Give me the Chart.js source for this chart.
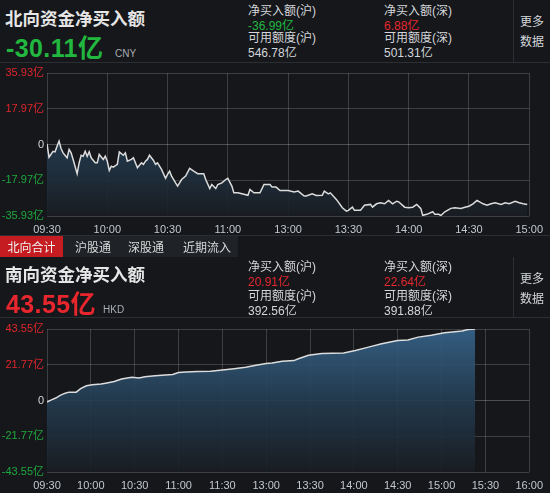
<!DOCTYPE html>
<html>
<head>
<meta charset="utf-8">
<script src="https://cdn.jsdelivr.net/npm/chart.js@4.4.0/dist/chart.umd.min.js"></script>
<style>
	body {
		margin: 0;
		width: 550px;
		height: 493px;
		overflow: hidden;
		position: relative;
		background: #15171b;
		font-family: 'Liberation Sans', 'Noto Sans CJK SC', sans-serif;
		color: #d4d6d9;
	}
	.t { position: absolute; white-space: nowrap; line-height: 16px; height: 16px; }
	.title { font-size: 17.5px; font-weight: bold; color: #e6e6e6; line-height: 20px; height: 20px; font-family: 'Noto Sans CJK SC', sans-serif; }
	.big { font-size: 25px; font-weight: bold; line-height: 28px; height: 28px; letter-spacing: 0.4px; }
	.cur { font-size: 10px; color: #a9adb2; }
	.sm { font-size: 12px; }
	.green { color: #22b83f; }
	.red { color: #e8262d; }
	.hline { position: absolute; left: 0; width: 550px; height: 1px; background: #2b2e33; }
	.vline { position: absolute; width: 1px; background: #2b2e33; }
	.tabs { position: absolute; left: 0; top: 236px; width: 238px; height: 21px; background: #1f2227; }
	.tab { position: absolute; top: 0; height: 21px; line-height: 21px; font-size: 12px; color: #d8d8d8; font-family: 'Noto Sans CJK SC', sans-serif; }
	.tab.on { background: #c41c20; left: 0; width: 63px; text-align: center; color: #f0f0f0; }
	canvas { position: absolute; left: 0; }
</style>
</head>
<body>
	<!-- north header -->
	<div class="t title" style="left:5px; top:8px;">北向资金净买入额</div>
	<div class="t big green" style="left:6px; top:34px;">-30.11亿</div>
	<div class="t cur" style="left:115px; top:46px;">CNY</div>
	<div class="t sm" style="left:248px; top:3px;">净买入额(沪)</div>
	<div class="t sm green" style="left:248px; top:18px;">-36.99亿</div>
	<div class="t sm" style="left:248px; top:30px;">可用额度(沪)</div>
	<div class="t sm" style="left:248px; top:45px;">546.78亿</div>
	<div class="t sm" style="left:384px; top:3px;">净买入额(深)</div>
	<div class="t sm red" style="left:384px; top:18px;">6.88亿</div>
	<div class="t sm" style="left:384px; top:30px;">可用额度(深)</div>
	<div class="t sm" style="left:384px; top:45px;">501.31亿</div>
	<div class="vline" style="left:513px; top:0; height:62px;"></div>
	<div class="t sm" style="left:520px; top:14px;">更多</div>
	<div class="t sm" style="left:520px; top:34px;">数据</div>
	<div class="hline" style="top:62px;"></div>

	<canvas id="northChart" width="550" height="174" style="top:62px;"></canvas>

	<div class="hline" style="top:235px;"></div>
	<div class="tabs">
		<div class="tab on">北向合计</div>
		<div class="tab" style="left:75px;">沪股通</div>
		<div class="tab" style="left:128px;">深股通</div>
		<div class="tab" style="left:183px;">近期流入</div>
	</div>

	<!-- south header -->
	<div class="t title" style="left:5px; top:264px;">南向资金净买入额</div>
	<div class="t big red" style="left:6px; top:290px;">43.55亿</div>
	<div class="t cur" style="left:103px; top:302px;">HKD</div>
	<div class="t sm" style="left:248px; top:259px;">净买入额(沪)</div>
	<div class="t sm red" style="left:248px; top:274px;">20.91亿</div>
	<div class="t sm" style="left:248px; top:288px;">可用额度(沪)</div>
	<div class="t sm" style="left:248px; top:303px;">392.56亿</div>
	<div class="t sm" style="left:384px; top:259px;">净买入额(深)</div>
	<div class="t sm red" style="left:384px; top:274px;">22.64亿</div>
	<div class="t sm" style="left:384px; top:288px;">可用额度(深)</div>
	<div class="t sm" style="left:384px; top:303px;">391.88亿</div>
	<div class="vline" style="left:513px; top:257px; height:60px;"></div>
	<div class="t sm" style="left:520px; top:271px;">更多</div>
	<div class="t sm" style="left:520px; top:291px;">数据</div>
	<div class="hline" style="top:317px;"></div>

	<canvas id="southChart" width="550" height="175" style="top:318px;"></canvas>

<script>
// North-bound flow (minutes since 09:30, lunch break removed), 亿
const northMinutes = [0, 1, 3, 4, 5, 6, 7, 8, 10, 11, 12, 13, 15, 16, 17, 18, 19, 20, 21, 22, 24, 25, 26, 28, 29, 30,
	31, 32, 33, 35, 36, 38, 39, 40, 42, 43, 44, 45, 47, 48, 49, 50, 51, 53, 54, 55, 57, 59, 60, 61, 62, 64, 65, 67, 69,
	71, 73, 75, 78, 79, 81, 82, 84, 85, 87, 89, 90, 92, 93, 95, 97, 100, 101, 103, 106, 108, 111, 112, 114, 116, 120,
	123, 125, 128, 129, 132, 134, 137, 138, 140, 141, 144, 147, 149, 150, 152, 153, 156, 158, 161, 162, 164, 166, 168,
	170, 172, 174, 175, 178, 180, 182, 184, 186, 187, 189, 192, 193, 195, 196, 198, 201, 203, 206, 208, 210, 212, 214,
	217, 219, 221, 223, 226, 228, 230, 233, 235, 237, 239];
const northValues = [0.3, -6.4, -3.4, -3.7, -0.9, 1.7, -2.0, -4.2, -6.7, -2.5, -4.2, -7.5, -14.7, -9.2, -5.4, -5.9, -3.4,
	-5.9, -3.7, -6.7, -9.2, -9.2, -5.0, -7.5, -5.9, -8.4, -13.0, -10.9, -11.4, -10.0, -3.7, -5.4, -4.2, -8.4, -7.5, -6.7,
	-9.2, -11.7, -9.2, -10.0, -8.4, -7.5, -5.4, -8.0, -10.0, -9.2, -12.5, -17.0, -15.0, -13.4, -15.9, -19.3, -20.9, -17.6,
	-15.9, -12.0, -13.4, -14.7, -14.7, -17.6, -22.1, -20.1, -22.1, -20.1, -19.3, -17.6, -17.0, -20.9, -24.3, -24.3, -24.8,
	-25.5, -22.6, -24.3, -24.3, -20.1, -20.1, -21.4, -21.4, -23.1, -23.1, -23.8, -23.4, -25.9, -25.9, -24.8, -25.6, -25.5,
	-23.4, -24.8, -24.3, -27.6, -31.8, -33.5, -33.1, -31.5, -33.1, -33.1, -30.5, -30.1, -31.5, -29.8, -29.3, -29.8, -28.1,
	-29.8, -28.5, -28.8, -31.5, -31.8, -31.5, -30.1, -32.1, -35.6, -35.1, -33.8, -35.1, -35.1, -35.7, -33.8, -32.1, -31.8,
	-32.1, -31.5, -31.0, -29.8, -28.1, -29.8, -30.5, -29.8, -29.3, -30.1, -29.3, -29.8, -28.5, -29.3, -29.8, -30.11];
const northTicks = [-35.93, -17.97, 0, 17.97, 35.93];
const northTickLabels = ['-35.93亿', '-17.97亿', '0', '17.97亿', '35.93亿'];
const northTimeTicks = [0, 30, 60, 90, 120, 150, 180, 210, 240];
const northTimeLabels = ['09:30', '10:00', '10:30', '11:00', '13:00', '13:30', '14:00', '14:30', '15:00'];

// South-bound flow
const southMinutes = [0, 3, 6, 9, 12, 15, 20, 23, 27, 31, 37, 41, 46, 51, 58, 63, 67, 74, 81, 86, 90, 95, 103, 112, 120,
	128, 136, 143, 150, 154, 161, 169, 172, 179, 188, 203, 211, 220, 229, 240, 247, 254, 263, 272, 279, 284, 288, 293];
const southValues = [-1.0, 0.4, 1.5, 3.1, 4.3, 5.1, 5.1, 7.2, 9.0, 9.6, 10.0, 10.7, 11.6, 13.1, 14.1, 13.7, 14.5, 15.1,
	15.6, 15.8, 17.0, 17.4, 17.6, 17.8, 18.6, 19.4, 20.2, 21.5, 22.5, 22.9, 23.9, 24.3, 25.4, 27.6, 28.6, 29.0, 30.5, 32.5,
	34.6, 36.6, 36.8, 38.6, 39.8, 41.3, 41.9, 42.3, 43.2, 43.55];
const southTicks = [-43.55, -21.77, 0, 21.77, 43.55];
const southTickLabels = ['-43.55亿', '-21.77亿', '0', '21.77亿', '43.55亿'];
const southTimeTicks = [0, 30, 60, 90, 120, 150, 180, 210, 240, 270, 300, 330];
const southTimeLabels = ['09:30', '10:00', '10:30', '11:00', '11:30', '13:00', '13:30', '14:00', '14:30', '15:00', '15:30', '16:00'];

const tickFont = { size: 11, family: "'Liberation Sans', 'Noto Sans CJK SC', sans-serif" };

// Blue gradient under the line, fading to the background
const areaFill = (ctx) => {
	const area = ctx.chart.chartArea;
	if (!area) return 'rgba(0,0,0,0)';
	const g = ctx.chart.ctx.createLinearGradient(0, area.top, 0, area.bottom);
	g.addColorStop(0, 'rgba(55,101,141,0.9)');
	g.addColorStop(0.5, 'rgba(36,61,82,0.9)');
	g.addColorStop(1, 'rgba(25,29,35,0.9)');
	return g;
};

function drawFlow(id, minutes, values, yTicks, yLabels, xTicks, xLabels) {
	const limit = yTicks[yTicks.length - 1];
	return new Chart(document.getElementById(id), {
		type: 'line',
		data: {
			datasets: [{
				data: minutes.map((m, i) => ({ x: m, y: values[i] })),
				borderColor: '#dcdcdc',
				borderWidth: 1.5,
				pointRadius: 0,
				tension: 0,
				fill: 'start',
				backgroundColor: areaFill,
			}],
		},
		options: {
			responsive: false,
			animation: false,
			layout: { padding: { top: 11, right: 16, left: 0, bottom: 0 } },
			plugins: { legend: { display: false }, tooltip: { enabled: false } },
			scales: {
				x: {
					type: 'linear',
					min: xTicks[0],
					max: xTicks[xTicks.length - 1],
					z: 1,
					afterBuildTicks: (axis) => { axis.ticks = xTicks.map((v) => ({ value: v })); },
					afterFit: (axis) => { axis.height = id === 'southChart' ? 21 : 20; },
					grid: { color: 'rgba(255,255,255,0.17)', drawTicks: false, tickLength: 0 },
					border: { display: false },
					ticks: {
						autoSkip: false,
						maxRotation: 0,
						padding: 7,
						color: '#c3c8ce',
						font: tickFont,
						callback: (v, i) => xLabels[i],
					},
				},
				y: {
					min: -limit,
					max: limit,
					z: 1,
					afterBuildTicks: (axis) => { axis.ticks = yTicks.map((v) => ({ value: v })); },
					afterFit: (axis) => { axis.width = 47; },
					grid: {
						color: (c) => (c.tick && c.tick.value === 0 ? 'rgba(255,255,255,0.24)' : 'rgba(255,255,255,0.17)'),
						drawTicks: false,
						tickLength: 0,
					},
					border: { display: false },
					ticks: {
						autoSkip: false,
						padding: 3,
						font: tickFont,
						color: (c) => (c.tick.value > 0 ? '#e0262c' : c.tick.value < 0 ? '#1fa83c' : '#d6d6d6'),
						callback: (v, i) => yLabels[i],
					},
				},
			},
		},
	});
}

drawFlow('northChart', northMinutes, northValues, northTicks, northTickLabels, northTimeTicks, northTimeLabels);
drawFlow('southChart', southMinutes, southValues, southTicks, southTickLabels, southTimeTicks, southTimeLabels);
</script>
</body>
</html>
